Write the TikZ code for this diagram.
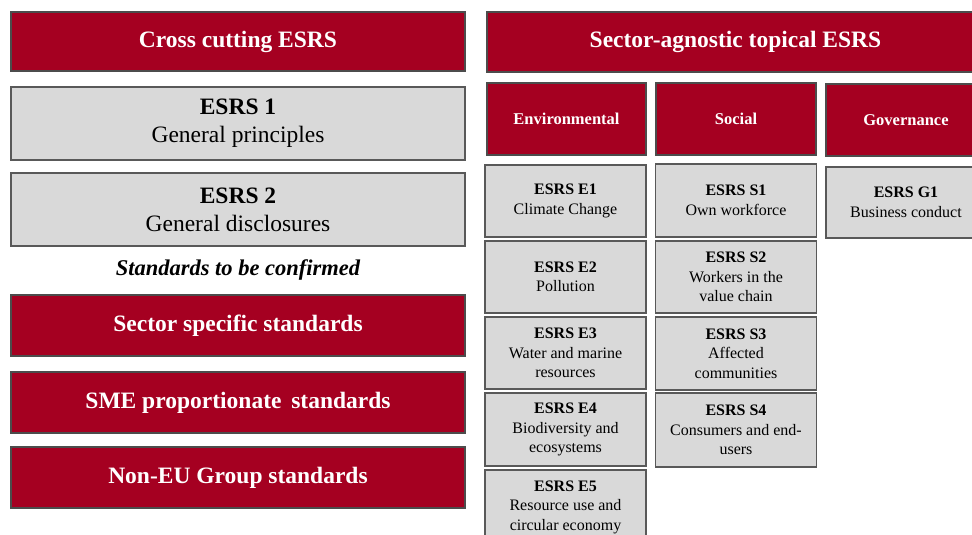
\documentclass[tikz,border=0pt]{standalone}
\usepackage{fontspec}
\setmainfont{Liberation Serif}
\usepackage{xcolor}
\usepackage{tikz}

\definecolor{esrsred}{HTML}{A50021}
\definecolor{esrsgrey}{HTML}{D9D9D9}

\begin{document}
\begin{tikzpicture}[x=1pt, y=-1pt,
    redbox/.style={draw=black!70, line width=1.2pt, fill=esrsred, text=white, inner sep=0pt,
      font=\bfseries\fontsize{23.5}{28}\selectfont},
    greybox/.style={draw=black!65, line width=1.2pt, fill=esrsgrey, align=center, inner sep=0pt,
      font=\fontsize{23.5}{28}\selectfont},
    pillar/.style={draw=black!70, line width=1.2pt, fill=esrsred, text=white, inner sep=0pt,
      minimum height=72, font=\bfseries\fontsize{16.5}{20}\selectfont},
    topic/.style={draw=black!65, line width=1.2pt, fill=esrsgrey, align=center, inner sep=0pt,
      font=\fontsize{16}{19.5}\selectfont},
  ]

    % page frame, boxes on the right run past it
    \clip (0,0) rectangle (972,535);
    \fill[white] (0,0) rectangle (972,535);

    % column centres
    \def\colL{238}
    \def\colE{565.5}
    \def\colS{736}
    \def\colG{906}

    % Cross cutting column
    \node[redbox, minimum width=454, minimum height=59] (cross) at (\colL,41.5) {Cross cutting ESRS};
    \node[greybox, minimum width=454, minimum height=73] (esrs1) at (\colL,123.5)
      {{\bfseries ESRS 1}\\General principles};
    \node[greybox, minimum width=454, minimum height=73] (esrs2) at (\colL,209.5)
      {{\bfseries ESRS 2}\\General disclosures};

    \node[font=\bfseries\itshape\fontsize{22.5}{27}\selectfont] (tbc) at (\colL,270) {Standards to be confirmed};

    \node[redbox, minimum width=454, minimum height=61] (sector) at (\colL,325.5) {Sector specific standards};
    \node[redbox, minimum width=454, minimum height=61] (sme) at (\colL,402.5) {SME proportionate\, standards};
    \node[redbox, minimum width=454, minimum height=61] (noneu) at (\colL,477.5) {Non-EU Group standards};

    % Sector-agnostic header, cut at the right edge
    \node[redbox, minimum width=497, minimum height=60] (agnostic) at (735.5,42) {Sector-agnostic topical ESRS};

    % Pillars
    \node[pillar, minimum width=159] (env) at (566.5,119) {Environmental};
    \node[pillar, minimum width=160] (soc) at (\colS,119) {Social};
    \node[pillar, minimum width=160] (gov) at (\colG,120) {Governance};

    % Environmental topics
    \node[topic, minimum width=161, minimum height=72] (e1) at (\colE,201)
      {{\bfseries ESRS E1}\\Climate Change};
    \node[topic, minimum width=161, minimum height=72] (e2) at (\colE,277)
      {{\bfseries ESRS E2}\\Pollution};
    \node[topic, minimum width=161, minimum height=72] (e3) at (\colE,353)
      {{\bfseries ESRS E3}\\Water and marine\\resources};
    \node[topic, minimum width=161, minimum height=73] (e4) at (\colE,429.5)
      {{\bfseries ESRS E4}\\Biodiversity and\\ecosystems};
    \node[topic, minimum width=161, minimum height=74] (e5) at (\colE,507)
      {{\bfseries ESRS E5}\\Resource use and\\circular economy};

    % Social topics
    \node[topic, minimum width=161, minimum height=73] (s1) at (\colS,200.5)
      {{\bfseries ESRS S1}\\Own workforce};
    \node[topic, minimum width=161, minimum height=72] (s2) at (\colS,277)
      {{\bfseries ESRS S2}\\Workers in the\\value chain};
    \node[topic, minimum width=161, minimum height=73] (s3) at (\colS,353.5)
      {{\bfseries ESRS S3}\\Affected\\communities};
    \node[topic, minimum width=161, minimum height=74] (s4) at (\colS,430)
      {{\bfseries ESRS S4}\\Consumers and end-\\users};

    % Governance topic
    \node[topic, minimum width=160, minimum height=71] (g1) at (\colG,202.5)
      {{\bfseries ESRS G1}\\Business conduct};

\end{tikzpicture}
\end{document}
